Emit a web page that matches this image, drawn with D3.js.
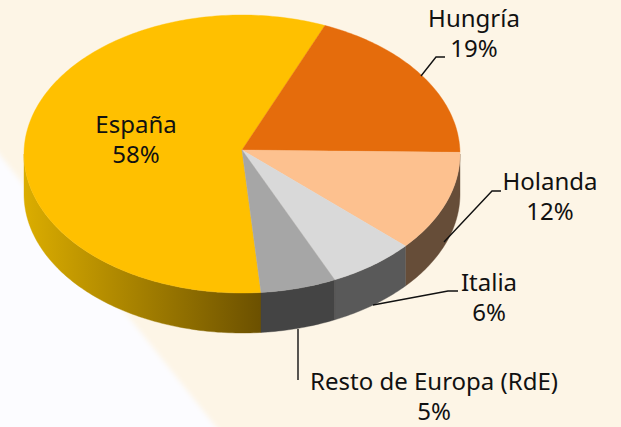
<!DOCTYPE html>
<html>
<head>
<meta charset="utf-8">
<script src="https://cdn.jsdelivr.net/npm/d3@7"></script>
<style>
	html, body { margin: 0; padding: 0; background: #fdf5e6; }
	svg { display: block; }
	text { font-family: "Noto Sans", sans-serif; font-size: 24px; fill: #111; text-anchor: middle; }
</style>
</head>
<body>
<div id="chart"></div>
<script>
const categories = ["España", "Hungría", "Holanda", "Italia", "Resto de Europa (RdE)"];
const shareLabels = ["58%", "19%", "12%", "6%", "5%"];
// Ampiezza degli spicchi (non coincide del tutto con le etichette arrotondate)
const drawnShares = [57.6, 18.6, 11.7, 6.5, 5.6];

const topColors = ["#ffc000", "#e56c0c", "#fdc18f", "#d9d9d9", "#a6a6a6"];
const wallColors = ["url(#wall-es)", "#e56c0c", "#664d38", "#595959", "#444444"];

const width = 621;
const height = 427;
const depth = 40;
const apex = [242, 150];

const svg = d3.select("#chart")
	.append("svg")
	.attr("width", width)
	.attr("height", height);

const defs = svg.append("defs");
defs.append("filter")
	.attr("id", "soft")
	.append("feGaussianBlur")
	.attr("stdDeviation", 2.5);

// Gradiente del lato di España, chiaro a sinistra e scuro a destra
const grad = defs.append("linearGradient")
	.attr("id", "wall-es")
	.attr("gradientUnits", "userSpaceOnUse")
	.attr("x1", 24).attr("x2", 262)
	.attr("y1", 0).attr("y2", 0);
grad.append("stop").attr("offset", 0).attr("stop-color", "#dbad00");
grad.append("stop").attr("offset", 1).attr("stop-color", "#6b5000");

// Cuneo chiaro dello sfondo in basso a sinistra
svg.append("path")
	.attr("d", "M-20,130L220,432L-20,432Z")
	.attr("fill", "#fcfcff")
	.attr("filter", "url(#soft)");

// Proiezione dell'ellisse
const xScale = d3.scaleLinear().domain([-1, 1]).range([24, 460]);
const yScale = d3.scaleLinear().domain([-1, 1]).range([293, 15]);
const rimPoint = a => [xScale(Math.sin(a)), yScale(Math.cos(a))];

const startDeg = 175;
const pie = d3.pie()
	.sort(null)
	.startAngle(startDeg * Math.PI / 180)
	.endAngle((startDeg + 360) * Math.PI / 180);
const slices = pie(drawnShares);

const line = d3.line();
const sample = (a0, a1) => {
	const n = Math.max(2, Math.ceil((a1 - a0) * 60));
	return d3.range(n + 1).map(i => rimPoint(a0 + (a1 - a0) * i / n));
};

// Lati visibili: solo la metà anteriore dell'ellisse
const sideGroup = svg.append("g");
slices.forEach((d, i) => {
	const ranges = [[d.startAngle, d.endAngle], [d.startAngle - 2 * Math.PI, d.endAngle - 2 * Math.PI]];
	ranges.forEach(r => {
		const a0 = Math.max(r[0], Math.PI / 2);
		const a1 = Math.min(r[1], 3 * Math.PI / 2);
		if (a1 <= a0) return;
		const upper = sample(a0, a1);
		const lower = upper.map(p => [p[0], p[1] + depth]).reverse();
		sideGroup.append("path")
			.attr("d", line(upper.concat(lower)) + "Z")
			.attr("fill", wallColors[i])
			.attr("stroke", wallColors[i])
			.attr("stroke-width", 0.4);
	});
});

// Spicchi superiori
svg.append("g")
	.selectAll("path")
	.data(slices)
	.enter().append("path")
	.attr("d", d => line([apex].concat(sample(d.startAngle, d.endAngle))) + "Z")
	.attr("fill", (d, i) => topColors[i])
	.attr("stroke", (d, i) => topColors[i])
	.attr("stroke-width", 0.4);

// Linee guida
const leaders = [
	[[421, 76], [436, 57], [445, 57]],
	[[444, 242], [492, 191], [501, 191]],
	[[373, 305], [448, 291], [458, 291]],
	[[298, 329], [298, 380]]
];
svg.append("g")
	.selectAll("path")
	.data(leaders)
	.enter().append("path")
	.attr("d", line)
	.attr("fill", "none")
	.attr("stroke", "#111")
	.attr("stroke-width", 1.4);

// Etichette: nome e percentuale
const labelPos = [[136, 133], [474, 27], [550, 190], [489, 291], [434, 390]];
const lineGap = 30;
const label = svg.append("g")
	.selectAll("g")
	.data(categories)
	.enter().append("g")
	.attr("transform", (d, i) => `translate(${labelPos[i]})`);
label.append("text").text(d => d);
label.append("text")
	.attr("y", lineGap)
	.text((d, i) => shareLabels[i]);
</script>
</body>
</html>
